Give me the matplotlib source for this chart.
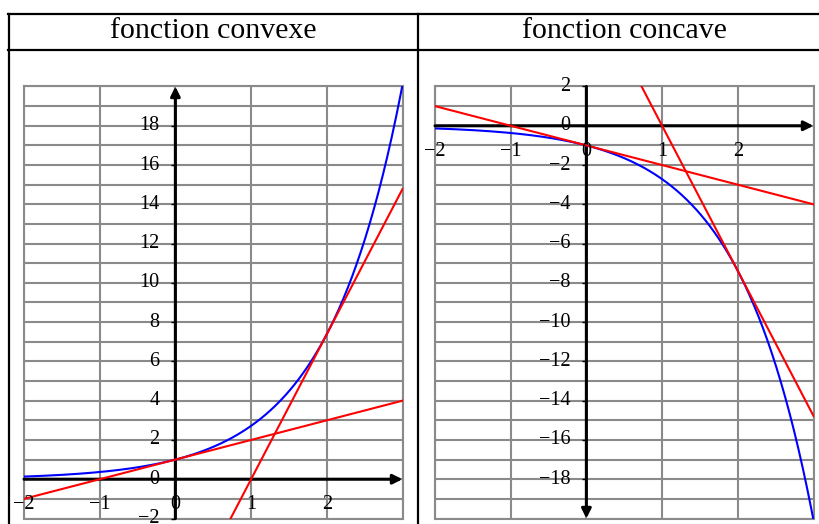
import matplotlib
matplotlib.use("Agg")
import matplotlib.pyplot as plt
from matplotlib.lines import Line2D
import numpy as np

plt.rcParams.update({
    "font.family": "serif",
    "font.serif": ["Liberation Serif", "DejaVu Serif"],
})

W, H = 819, 524

# en-tetes du tableau
titres = ["fonction convexe", "fonction concave"]

# domaines et graduations
x_min, x_max = -2, 3
x_etiq = [-2, -1, 0, 1, 2]
ylim_convexe = (-2, 20)
ylim_concave = (-20, 2)
y_etiq_convexe = [-2, 0, 2, 4, 6, 8, 10, 12, 14, 16, 18]
y_etiq_concave = [2, 0, -2, -4, -6, -8, -10, -12, -14, -16, -18]

# points de tangence
a_tangentes = [0, 2]


def fx(px):
    return px / W


def fy(py):
    return 1 - py / H


fig = plt.figure(figsize=(W / 100, H / 100), dpi=100)
fig.patch.set_facecolor("white")

# ---------------- tableau ----------------
lw_tab = 1.6
for py in (13.5, 49.5):
    fig.add_artist(Line2D([fx(8), 1.0], [fy(py), fy(py)], color="k", lw=lw_tab))
for px in (8.5, 418.5):
    fig.add_artist(Line2D([fx(px), fx(px)], [fy(13.5), 0.0], color="k", lw=lw_tab))

fig.text(fx(213.5), fy(38.5), titres[0], ha="center", va="baseline", fontsize=21.5)
fig.text(fx(624.5), fy(38.5), titres[1], ha="center", va="baseline", fontsize=21.5)


def repere(left_px, ylim, y_etiq, signe):
    ax = fig.add_axes([fx(left_px), fy(518.5), (402.5 - 24) / W, (518.5 - 86.5) / H])
    ax.set_xlim(x_min, x_max)
    ax.set_ylim(*ylim)
    ax.set_xticks(range(x_min, x_max + 1))
    ax.set_yticks(range(ylim[0], ylim[1] + 1))
    ax.grid(color="#8a8a8a", lw=1.5)
    ax.tick_params(length=0, labelbottom=False, labelleft=False)
    for s in ax.spines.values():
        s.set_color("#8a8a8a")
        s.set_linewidth(1.5)

    # axes du repere
    arrow = dict(arrowstyle="-|>", color="k", lw=2.2, mutation_scale=14,
                 shrinkA=0, shrinkB=0)
    ax.annotate("", xy=(x_max, 0), xytext=(x_min, 0), arrowprops=arrow,
                annotation_clip=False, zorder=3)
    if signe > 0:
        ax.annotate("", xy=(0, ylim[1]), xytext=(0, ylim[0]), arrowprops=arrow,
                    annotation_clip=False, zorder=3)
    else:
        ax.annotate("", xy=(0, ylim[0]), xytext=(0, ylim[1]), arrowprops=arrow,
                    annotation_clip=False, zorder=3)

    # graduations
    ax.plot(np.zeros(len(y_etiq)), y_etiq, ls="none", marker=0, ms=3,
            mew=1.0, color="k", zorder=3, clip_on=False)
    for v in x_etiq:
        ax.annotate(str(v).replace("-", "\u2212"), xy=(v, 0), xytext=(0, -18.5),
                    textcoords="offset points", ha="center", va="center",
                    fontsize=14.5, annotation_clip=False, zorder=5)
    for v in y_etiq:
        ax.annotate(str(v).replace("-", "\u2212"), xy=(0, v), xytext=(-11.5, 0),
                    textcoords="offset points", ha="right", va="center",
                    fontsize=14.5, annotation_clip=False, zorder=5)

    # courbe et tangentes
    x = np.linspace(x_min, x_max, 600)
    ax.plot(x, signe * np.exp(x), color="#0000ff", lw=1.5, zorder=4)
    for a in a_tangentes:
        ax.plot(x, signe * (np.exp(a) * (x - a) + np.exp(a)), color="#ff0000",
                lw=1.5, zorder=4)
    return ax


repere(24, ylim_convexe, y_etiq_convexe, 1)
repere(435, ylim_concave, y_etiq_concave, -1)

fig.savefig("out.png", dpi=100, facecolor="white")
